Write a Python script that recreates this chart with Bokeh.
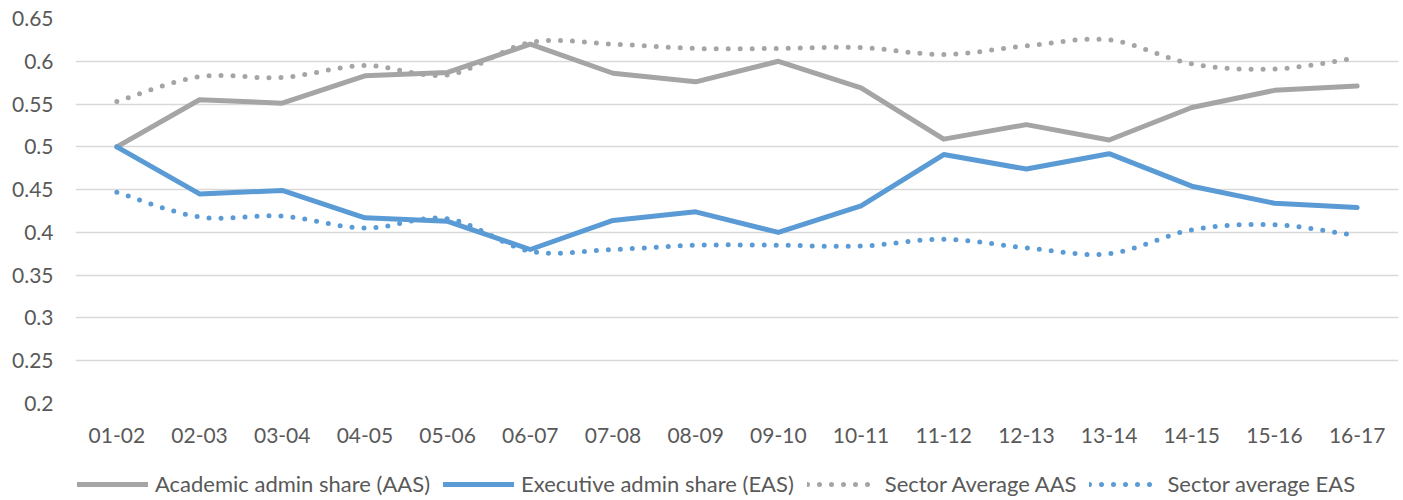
import numpy as np
from bokeh.plotting import figure
from bokeh.layouts import column
from bokeh.models import (Range1d, FixedTicker, NumeralTickFormatter, Legend,
                          LegendItem, ColumnDataSource)
from bokeh.embed import file_html
from bokeh.resources import INLINE

years = ["01-02", "02-03", "03-04", "04-05", "05-06", "06-07", "07-08", "08-09",
         "09-10", "10-11", "11-12", "12-13", "13-14", "14-15", "15-16", "16-17"]
aas = [0.500, 0.555, 0.551, 0.583, 0.587, 0.620, 0.586, 0.576,
       0.600, 0.569, 0.509, 0.526, 0.508, 0.546, 0.566, 0.571]
eas = [0.500, 0.445, 0.449, 0.417, 0.413, 0.380, 0.414, 0.424,
       0.400, 0.431, 0.491, 0.474, 0.492, 0.454, 0.434, 0.429]
sector_aas = [0.553, 0.582, 0.581, 0.595, 0.584, 0.622, 0.620, 0.615,
              0.615, 0.616, 0.608, 0.618, 0.625, 0.597, 0.591, 0.604]
sector_eas = [0.447, 0.418, 0.419, 0.405, 0.416, 0.378, 0.380, 0.385,
              0.385, 0.384, 0.392, 0.382, 0.375, 0.403, 0.409, 0.396]
y_ticks = [0.2, 0.25, 0.3, 0.35, 0.4, 0.45, 0.5, 0.55, 0.6, 0.65]
series_names = ["Academic admin share (AAS)", "Executive admin share (EAS)",
                "Sector Average AAS", "Sector average EAS"]

GRAY = "#A5A5A5"
BLUE = "#5B9BD5"
TEXT = "#595959"
FONT = "Lato"
W = 1400

xs = list(range(len(years)))


def smooth(x, y, n=30):
    """Excel-style smoothed path (Catmull-Rom Bezier) through the data points."""
    P = np.column_stack([x, y]).astype(float)
    out = []
    m = len(P)
    for i in range(m - 1):
        p0 = P[i - 1] if i > 0 else P[i]
        p1, p2 = P[i], P[i + 1]
        p3 = P[i + 2] if i + 2 < m else P[i + 1]
        c1 = p1 + (p2 - p0) / 6.0
        c2 = p2 - (p3 - p1) / 6.0
        for t in np.linspace(0, 1, n, endpoint=(i == m - 2)):
            out.append(((1 - t) ** 3) * p1 + 3 * ((1 - t) ** 2) * t * c1
                       + 3 * (1 - t) * t * t * c2 + t ** 3 * p2)
    out = np.array(out)
    return out[:, 0], out[:, 1]


p = figure(width=W, height=458, output_backend="svg", toolbar_location=None,
           x_range=Range1d(-0.5, len(years) - 0.5), y_range=Range1d(0.2, 0.65),
           min_border_left=75, min_border_right=2, min_border_top=18,
           min_border_bottom=55)
p.outline_line_color = None
p.xgrid.visible = False
p.ygrid.grid_line_color = "#D9D9D9"
p.ygrid.grid_line_width = 1.5

p.yaxis.ticker = FixedTicker(ticks=y_ticks)
p.yaxis.formatter = NumeralTickFormatter(format="0.[00]")
p.xaxis.ticker = FixedTicker(ticks=xs)
p.xaxis.major_label_overrides = {i: y for i, y in enumerate(years)}
for ax in (p.xaxis, p.yaxis):
    ax.axis_line_color = None
    ax.major_tick_line_color = None
    ax.minor_tick_line_color = None
    ax.major_tick_out = 0
    ax.major_tick_in = 0
    ax.major_label_text_font = FONT
    ax.major_label_text_font_size = "21px"
    ax.major_label_text_color = TEXT
p.yaxis.major_label_standoff = 22
p.xaxis.major_label_standoff = 24

sx, sy = smooth(xs, sector_aas)
ex, ey = smooth(xs, sector_eas)
src = ColumnDataSource(dict(x=xs, aas=aas, eas=eas))
src_s1 = ColumnDataSource(dict(x=sx, y=sy))
src_s2 = ColumnDataSource(dict(x=ex, y=ey))
series = [(src, "x", "aas"), (src, "x", "eas"), (src_s1, "x", "y"), (src_s2, "x", "y")]
styles = [
    dict(line_color=GRAY, line_width=5, line_join="round", line_cap="round"),
    dict(line_color=BLUE, line_width=5, line_join="round", line_cap="round"),
    dict(line_color=GRAY, line_width=5, line_dash="0 12", line_cap="round", line_join="round"),
    dict(line_color=BLUE, line_width=5, line_dash="0 12", line_cap="round", line_join="round"),
]
for (s, xc, yc), st in zip(series, styles):
    p.line(xc, yc, source=s, **st)

# legend strip below the chart (same series, drawn outside its visible ranges)
lg = figure(width=W, height=42, output_backend="svg", toolbar_location=None,
            x_range=Range1d(100, 101), y_range=Range1d(100, 101),
            min_border_left=0, min_border_right=0, min_border_top=0,
            min_border_bottom=0)
lg.axis.visible = False
lg.grid.visible = False
lg.outline_line_color = None
items = []
for name, (s, xc, yc), st in zip(series_names, series, styles):
    r = lg.line(xc, yc, source=s, **st)
    items.append(LegendItem(label=name, renderers=[r]))
legend = Legend(items=items, orientation="horizontal", location=(2, 3))
legend.border_line_color = None
legend.background_fill_alpha = 0
legend.padding = 0
legend.margin = 0
legend.spacing = 13
legend.glyph_width = 71
legend.glyph_height = 20
legend.label_height = 20
legend.label_standoff = 7
legend.label_text_font = FONT
legend.label_text_font_size = "22px"
legend.label_text_color = TEXT
lg.add_layout(legend, "center")

layout = column(p, lg, spacing=0)
open("out.html", "w").write(file_html(layout, INLINE))
